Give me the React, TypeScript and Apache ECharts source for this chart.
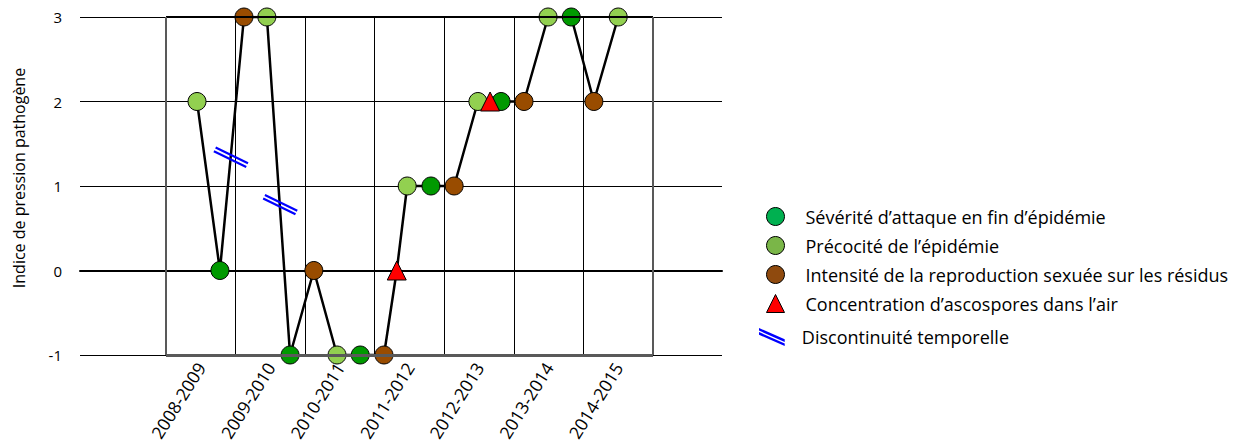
import React, { useEffect, useRef } from "react";
import * as echarts from "echarts";

// ---- data ----
const seasons = ["2008-2009", "2009-2010", "2010-2011", "2011-2012", "2012-2013", "2013-2014", "2014-2015"];
// x positions expressed in months from the start of 2008-2009 (12 per season)
const severiteX = [9.3, 21.4, 33.5, 45.7, 57.8, 69.9];
const severiteY = [0, -1, -1, 1, 2, 3];
const precociteX = [5.35, 17.4, 29.5, 41.6, 53.8, 65.9, 78.0];
const precociteY = [2, 3, -1, 1, 2, 3, 3];
const intensiteX = [13.45, 25.5, 37.6, 49.7, 61.75, 73.8];
const intensiteY = [3, 0, -1, 1, 2, 2];
const ascosporesX = [39.8, 55.9];
const ascosporesY = [0, 2];
const discontX = [11.2, 19.7];
const discontY = [1.34, 0.78];
const yTicks = [-1, 0, 1, 2, 3];

const names = [
  "Sévérité d’attaque en fin d’épidémie",
  "Précocité de l’épidémie",
  "Intensité de la reproduction sexuée sur les résidus",
  "Concentration d’ascospores dans l’air",
  "Discontinuité temporelle",
];

const zip = (xs: number[], ys: number[]) => xs.map((x, i) => [x, ys[i]]);

const FONT = "Open Sans";

export default function App() {
  const ref = useRef<HTMLDivElement>(null);
  useEffect(() => {
    document.body.style.margin = "0";
    if (!ref.current) return;
    const chart = echarts.init(ref.current, null, { renderer: "svg" });
    const allPts = [
      ...zip(severiteX, severiteY),
      ...zip(precociteX, precociteY),
      ...zip(intensiteX, intensiteY),
      ...zip(ascosporesX, ascosporesY),
    ].sort((a, b) => a[0] - b[0]);
    const span = seasons.length * 12;
    const doubleIcon =
      "path://M0,0 L100,44 L100,54 L0,10 Z M0,16 L100,60 L100,70 L0,26 Z";
    const legendText = (gap: number) => ({
      fontSize: 18,
      color: "#000",
      fontFamily: FONT,
      lineHeight: 18,
      rich: { sp: { width: gap, fontSize: 18, fontFamily: FONT, lineHeight: 18 } },
    });

    chart.setOption({
      animation: false,
      textStyle: { fontFamily: FONT },
      grid: [
        { left: 80, right: 519, top: 17, bottom: 92 },
        { left: 166, right: 588, top: 17, bottom: 92 },
      ],
      xAxis: [
        {
          type: "value",
          gridIndex: 0,
          min: 0,
          max: 1,
          axisLine: { show: true, onZero: true, lineStyle: { color: "#000", width: 2 } },
          axisTick: { show: false },
          axisLabel: { show: false },
          splitLine: { show: false },
        },
        {
          type: "value",
          gridIndex: 1,
          min: 0,
          max: span,
          interval: 12,
          axisLine: { show: false },
          axisTick: { show: false },
          axisLabel: { show: false },
          splitLine: { show: true, lineStyle: { color: "#000", width: 1 } },
        },
        {
          type: "category",
          gridIndex: 1,
          position: "bottom",
          data: seasons,
          boundaryGap: true,
          axisLine: { show: false },
          axisTick: { show: false },
          axisLabel: { rotate: 58, fontSize: 17.5, color: "#000", margin: 9, fontFamily: FONT },
        },
      ],
      yAxis: [
        {
          type: "value",
          gridIndex: 0,
          min: yTicks[0],
          max: yTicks[yTicks.length - 1],
          interval: 1,
          name: "Indice de pression pathogène",
          nameLocation: "middle",
          nameRotate: 90,
          nameGap: 53,
          nameTextStyle: { fontSize: 16, color: "#000", fontFamily: FONT, padding: [0, 0, 0, 16] },
          axisLine: { show: false },
          axisTick: { show: false },
          axisLabel: { fontSize: 15, color: "#000", margin: 18, fontFamily: FONT },
          splitLine: { show: true, lineStyle: { color: "#000", width: 1 } },
        },
        {
          type: "value",
          gridIndex: 1,
          min: yTicks[0],
          max: yTicks[yTicks.length - 1],
          interval: 1,
          show: false,
        },
      ],
      legend: [
        {
          orient: "vertical",
          left: 766,
          top: 207,
          padding: 0,
          itemWidth: 18,
          itemHeight: 18,
          itemGap: 10,
          formatter: (n: string) => `{sp| }${n}`,
          textStyle: legendText(16),
          data: [
            { name: names[0], icon: "circle", itemStyle: { color: "#00B050", borderColor: "#000", borderWidth: 1 } },
            { name: names[1], icon: "circle", itemStyle: { color: "#7AB648", borderColor: "#000", borderWidth: 1 } },
            { name: names[2], icon: "circle", itemStyle: { color: "#8F4A0E", borderColor: "#000", borderWidth: 1 } },
            { name: names[3], icon: "triangle", itemStyle: { color: "#FF0000", borderColor: "#000", borderWidth: 1 } },
          ],
        },
        {
          orient: "vertical",
          left: 759,
          top: 328,
          padding: 0,
          itemWidth: 32,
          itemHeight: 18,
          formatter: (n: string) => `{sp| }${n}`,
          textStyle: legendText(9),
          data: [{ name: names[4], icon: doubleIcon, itemStyle: { color: "#0000FF" } }],
        },
      ],
      series: [
        {
          type: "line",
          xAxisIndex: 1,
          yAxisIndex: 1,
          data: allPts,
          showSymbol: false,
          symbol: "none",
          silent: true,
          lineStyle: { color: "#000", width: 2.5 },
          z: 2,
          markLine: {
            silent: true,
            symbol: "none",
            label: { show: false },
            data: [
              { yAxis: yTicks[yTicks.length - 1], lineStyle: { color: "#000", width: 2, type: "solid" } },
              { yAxis: yTicks[0], lineStyle: { color: "#595959", width: 3, type: "solid" } },
              { xAxis: 0, lineStyle: { color: "#595959", width: 2, type: "solid" } },
              { xAxis: span, lineStyle: { color: "#595959", width: 2, type: "solid" } },
            ],
          },
        },
        {
          name: names[0],
          type: "scatter",
          xAxisIndex: 1,
          yAxisIndex: 1,
          data: zip(severiteX, severiteY),
          symbol: "circle",
          symbolSize: 18,
          itemStyle: { color: "#009900", borderColor: "#000", borderWidth: 1, opacity: 1 },
          z: 4,
        },
        {
          name: names[1],
          type: "scatter",
          xAxisIndex: 1,
          yAxisIndex: 1,
          data: zip(precociteX, precociteY),
          symbol: "circle",
          symbolSize: 18,
          itemStyle: { color: "#92D050", borderColor: "#000", borderWidth: 1, opacity: 1 },
          z: 4,
        },
        {
          name: names[2],
          type: "scatter",
          xAxisIndex: 1,
          yAxisIndex: 1,
          data: zip(intensiteX, intensiteY),
          symbol: "circle",
          symbolSize: 18,
          itemStyle: { color: "#994C00", borderColor: "#000", borderWidth: 1, opacity: 1 },
          z: 4,
        },
        {
          name: names[3],
          type: "scatter",
          xAxisIndex: 1,
          yAxisIndex: 1,
          data: zip(ascosporesX, ascosporesY),
          symbol: "triangle",
          symbolSize: 19,
          itemStyle: { color: "#FF0000", borderColor: "#000", borderWidth: 1, opacity: 1 },
          z: 5,
        },
        {
          name: names[4],
          type: "custom",
          xAxisIndex: 1,
          yAxisIndex: 1,
          data: zip(discontX, discontY),
          itemStyle: { color: "#0000FF" },
          z: 3,
          renderItem: (params: any, api: any) => {
            const c = api.coord([api.value(0), api.value(1)]);
            const ang = (26 * Math.PI) / 180;
            const half = 18;
            const dx = Math.cos(ang) * half;
            const dy = Math.sin(ang) * half;
            const px = -Math.sin(ang) * 2;
            const py = Math.cos(ang) * 2;
            const mk = (s: number) => ({
              type: "line",
              shape: {
                x1: c[0] - dx + px * s,
                y1: c[1] - dy + py * s,
                x2: c[0] + dx + px * s,
                y2: c[1] + dy + py * s,
              },
              style: { stroke: "#0000FF", lineWidth: 2.2 },
            });
            return { type: "group", children: [mk(-1), mk(1)] };
          },
        },
      ],
    });
    return () => chart.dispose();
  }, []);
  return <div ref={ref} style={{ width: 1241, height: 447 }} />;
}
